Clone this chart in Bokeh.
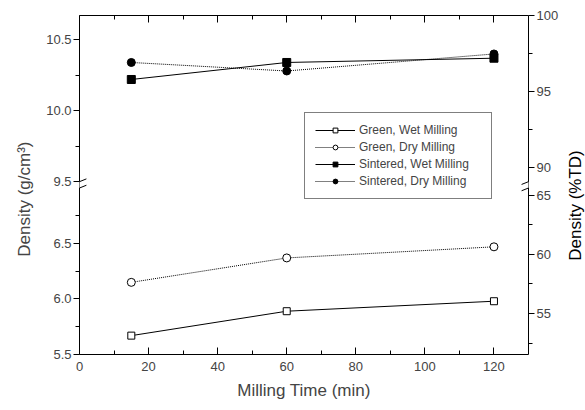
import math
from bokeh.plotting import figure
from bokeh.layouts import row
from bokeh.models import Range1d, LinearAxis, FixedTicker, Legend, LegendItem, Arrow
from bokeh.core.properties import value
from bokeh.embed import file_html
from bokeh.resources import INLINE

# ---------------- data ----------------
milling_time = [15, 60, 120]
green_wet = [5.67, 5.89, 5.98]
green_dry = [6.15, 6.37, 6.47]
sintered_wet = [10.22, 10.34, 10.37]
sintered_dry = [10.34, 10.28, 10.40]

series_labels = ["Green, Wet Milling", "Green, Dry Milling",
                 "Sintered, Wet Milling", "Sintered, Dry Milling"]

x_major = [0, 20, 40, 60, 80, 100, 120]
x_minor = [10, 30, 50, 70, 90, 110]
left_low_major = [5.5, 6.0, 6.5]
left_low_minor = [5.75, 6.25, 6.75]
left_up_major = [9.5, 10.0, 10.5]
left_up_minor = [9.75, 10.25]
right_low_major = [55, 60, 65]
right_low_minor = [52.5, 57.5, 62.5]
right_up_major = [90, 95, 100]
right_up_minor = [92.5, 97.5]
TD = 10.67  # theoretical density, g/cm3 (100 %TD)
right_title = "Density (%TD)"

# ---------------- broken y-axis ranges ----------------
LOW = (5.5, 8.554)     # lower segment (full-frame equivalent)
UP = (8.282, 10.671)   # upper segment (full-frame equivalent)
LOW_SEG = (5.5, 7.0)   # visible part of lower segment
UP_SEG = (9.5, 10.671) # visible part of upper segment


def to_main(v, rng):
    """map a value of a segment range onto the main (lower) y range"""
    return LOW[0] + (v - rng[0]) * (LOW[1] - LOW[0]) / (rng[1] - rng[0])


def seg_ticks(values, rng, seg, scale=1.0):
    out = []
    for v in values:
        lv = v * scale
        if seg[0] - 1e-9 <= lv <= seg[1] + 1e-9:
            out.append((to_main(lv, rng), v))
    return out


FONT = "Liberation Sans"
NB = "\u00a0"
H = 410

p = figure(frame_width=449, frame_height=339,
           x_range=Range1d(0, 130), y_range=Range1d(*LOW),
           y_axis_location=None,
           output_backend="svg", toolbar_location=None,
           min_border_left=79, min_border_right=37,
           min_border_top=15, min_border_bottom=56)
p.extra_y_ranges = {"up": Range1d(*UP)}
p.outline_line_color = None
p.xgrid.visible = False
p.ygrid.visible = False
p.background_fill_color = "white"
p.border_fill_color = "white"

# ---------------- x axes ----------------
xa = p.xaxis[0]
xa.ticker = FixedTicker(ticks=x_major, minor_ticks=x_minor)
xa.axis_label = "Milling Time (min)"
xa.major_tick_in = 7
xa.major_tick_out = 0
xa.minor_tick_in = 4
xa.minor_tick_out = 0
xa.major_label_standoff = 7
xa.axis_label_standoff = 7
xa.major_label_text_font = FONT
xa.major_label_text_font_size = "13px"
xa.axis_label_text_font = FONT
xa.axis_label_text_font_size = "17px"
xa.axis_label_text_font_style = "normal"
xa.axis_line_color = "black"

top = LinearAxis(ticker=FixedTicker(ticks=x_major, minor_ticks=x_minor),
                 major_label_text_color=None, major_label_text_font_size="8px",
                 major_label_standoff=0,
                 major_tick_in=7, major_tick_out=0, minor_tick_in=4, minor_tick_out=0,
                 axis_line_color="black")
p.add_layout(top, "above")

# ---------------- y axes (broken) ----------------
lt = seg_ticks(left_low_major, LOW, LOW_SEG) + seg_ticks(left_up_major, UP, UP_SEG)
lm = seg_ticks(left_low_minor, LOW, LOW_SEG) + seg_ticks(left_up_minor, UP, UP_SEG)
left = LinearAxis(ticker=FixedTicker(ticks=[t for t, _ in lt], minor_ticks=[t for t, _ in lm]),
                  major_label_overrides={t: f"{v:.1f}" for t, v in lt},
                  axis_label="Density (g/cm³)" + NB * 6)
s = TD / 100.0
rt = seg_ticks(right_low_major, LOW, LOW_SEG, s) + seg_ticks(right_up_major, UP, UP_SEG, s)
rm = seg_ticks(right_low_minor, LOW, LOW_SEG, s) + seg_ticks(right_up_minor, UP, UP_SEG, s)
right = LinearAxis(ticker=FixedTicker(ticks=[t for t, _ in rt], minor_ticks=[t for t, _ in rm]),
                   major_label_overrides={t: f"{v:g}" for t, v in rt})
for ax, std in [(left, 9), (right, 5)]:
    ax.major_tick_in = 0
    ax.major_tick_out = 6
    ax.minor_tick_in = 0
    ax.minor_tick_out = 4
    ax.major_label_standoff = 2
    ax.axis_label_standoff = std
    ax.major_label_text_font = FONT
    ax.major_label_text_font_size = "13px"
    ax.axis_label_text_font = FONT
    ax.axis_label_text_font_size = "17px"
    ax.axis_label_text_font_style = "normal"
    ax.axis_line_color = "black"
p.add_layout(left, "left")
p.add_layout(right, "right")

# ---------------- series ----------------
l1 = p.line(milling_time, green_wet, line_color="black", line_width=1)
s1 = p.scatter(milling_time, green_wet, marker="square", size=7,
               fill_color="white", line_color="black", line_width=1)
l2 = p.line(milling_time, green_dry, line_color="black", line_width=1, line_dash="1 1")
s2 = p.scatter(milling_time, green_dry, marker="circle", size=8,
               fill_color="white", line_color="black", line_width=1)
l3 = p.line(milling_time, sintered_wet, line_color="black", line_width=1, y_range_name="up")
s3 = p.scatter(milling_time, sintered_wet, marker="square", size=8,
               fill_color="black", line_color="black", y_range_name="up")
l4 = p.line(milling_time, sintered_dry, line_color="black", line_width=1, line_dash="1 1",
            y_range_name="up")
s4 = p.scatter(milling_time, sintered_dry, marker="circle", size=8,
               fill_color="black", line_color="black", y_range_name="up")

legend = Legend(items=[LegendItem(label=series_labels[0], renderers=[l1, s1]),
                       LegendItem(label=series_labels[1], renderers=[l2, s2]),
                       LegendItem(label=series_labels[2], renderers=[l3, s3]),
                       LegendItem(label=series_labels[3], renderers=[l4, s4])],
                location=(225, 155), orientation="vertical",
                border_line_color="black", border_line_width=1,
                background_fill_color="white", background_fill_alpha=1,
                padding=10, spacing=3, margin=0,
                glyph_width=40, glyph_height=12, label_height=12, label_width=122,
                label_standoff=4, label_text_font=FONT, label_text_font_size="12px")
p.add_layout(legend)

# ---------------- axis break marks ----------------
y_up_end = to_main(UP_SEG[0], UP)
y_low_end = LOW_SEG[1]
dx = 2.0
dy = 0.025
for xb in [p.x_range.start, p.x_range.end]:
    p.add_layout(Arrow(end=None, x_start=xb, y_start=y_low_end, x_end=xb, y_end=y_up_end,
                       line_color="white", line_width=3))
    for yb in [y_up_end, y_low_end]:
        p.add_layout(Arrow(end=None, x_start=xb - dx, y_start=yb - dy,
                           x_end=xb + dx, y_end=yb + dy,
                           line_color="black", line_width=1))

# ---------------- right-hand axis title strip (reads bottom-to-top) ----------------
strip = figure(frame_width=20, frame_height=H, x_range=Range1d(0, 1), y_range=Range1d(0, H),
               x_axis_location=None, y_axis_location=None,
               output_backend="svg", toolbar_location=None,
               min_border=0, min_border_left=0, min_border_right=0,
               min_border_top=0, min_border_bottom=0)
strip.outline_line_color = None
strip.xgrid.visible = False
strip.ygrid.visible = False
strip.background_fill_color = "white"
strip.border_fill_color = "white"
strip.text(x=[0.5], y=[H - 190], text=[right_title], angle=math.pi / 2,
           text_align="center", text_baseline="middle",
           text_font=value(FONT), text_font_size="17px", text_color="black")

layout = row(p, strip, spacing=0)
open("out.html", "w").write(file_html(layout, INLINE))
